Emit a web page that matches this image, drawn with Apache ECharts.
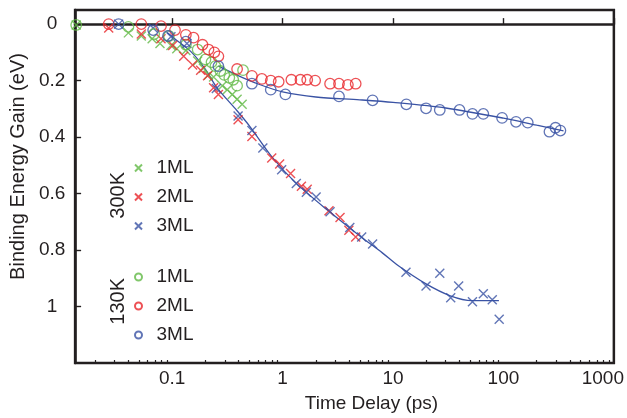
<!DOCTYPE html>
<html>
<head>
<meta charset="utf-8">
<script src="https://cdn.jsdelivr.net/npm/echarts@6/dist/echarts.min.js"></script>
<style>
html,body{margin:0;padding:0;background:#fff;}
#chart{width:627px;height:418px;}
</style>
</head>
<body>
<div id="chart"></div>
<script>
// ---- data: [time delay (ps), binding energy gain (eV)] ----
const k300_1ML = [[0.0135,0.003],[0.0401,0.031],[0.0525,0.042],[0.0658,0.052],[0.0775,0.069],[0.0974,0.076],[0.110,0.087],[0.133,0.093],[0.170,0.131],[0.192,0.156],[0.213,0.180],[0.237,0.187],[0.284,0.218],[0.315,0.232],[0.350,0.249],[0.387,0.266],[0.430,0.284]];
const k300_2ML = [[0.0266,0.014],[0.0525,0.035],[0.0792,0.052],[0.101,0.076],[0.127,0.114],[0.153,0.145],[0.181,0.163],[0.209,0.183],[0.237,0.225],[0.262,0.249],[0.395,0.339],[0.527,0.398],[0.797,0.474],[0.940,0.495],[1.18,0.529],[1.48,0.574],[1.67,0.585],[2.63,0.661],[3.31,0.685],[3.98,0.730],[4.59,0.754]];
const k300_3ML = [[0.0327,0.0],[0.0672,0.014],[0.0974,0.045],[0.136,0.069],[0.251,0.228],[0.395,0.325],[0.527,0.377],[0.662,0.439],[0.980,0.516],[1.33,0.564],[1.64,0.595],[2.01,0.612],[2.69,0.664],[4.06,0.720],[5.20,0.754],[6.53,0.779],[13.1,0.879],[19.9,0.927],[26.5,0.882],[33.3,0.969],[39.3,0.927],[52.4,0.983],[65.7,0.955],[79.2,0.976],[91.5,1.045]];
const k130_1ML = [[0.0135,0.003],[0.0401,0.010],[0.0686,0.035],[0.0934,0.042],[0.133,0.073],[0.170,0.090],[0.200,0.125],[0.227,0.135],[0.246,0.149],[0.273,0.166],[0.296,0.180],[0.329,0.190],[0.357,0.197],[0.387,0.218],[0.438,0.163]];
const k130_2ML = [[0.0266,0.0],[0.0525,0.0],[0.0792,0.007],[0.106,0.021],[0.133,0.038],[0.156,0.048],[0.188,0.073],[0.213,0.090],[0.241,0.100],[0.262,0.114],[0.387,0.159],[0.527,0.183],[0.649,0.194],[0.781,0.200],[0.921,0.204],[1.20,0.197],[1.45,0.197],[1.67,0.197],[1.97,0.200],[2.69,0.211],[3.24,0.211],[3.90,0.215],[4.59,0.211]];
const k130_3ML = [[0.0327,0.0],[0.0672,0.021],[0.0916,0.042],[0.133,0.062],[0.262,0.149],[0.527,0.211],[0.781,0.232],[1.06,0.249],[3.24,0.256],[6.53,0.270],[13.2,0.284],[19.9,0.298],[26.5,0.304],[40.0,0.304],[52.4,0.318],[65.7,0.318],[97.2,0.332],[130,0.346],[166,0.349],[261,0.381],[296,0.367],[328,0.377]];
// fitted curves
const fit300_3ML = [[0.09,0.03],[0.108,0.055],[0.15,0.10],[0.2,0.16],[0.254,0.225],[0.385,0.306],[0.506,0.363],[0.8,0.47],[1.33,0.564],[2.63,0.663],[5,0.75],[8,0.81],[11.1,0.855],[19.9,0.92],[33,0.962],[52,0.979],[91,0.979]];
const fit130_3ML = [[0.262,0.149],[0.4,0.183],[0.6,0.212],[1,0.240],[2,0.258],[5,0.268],[10,0.277],[30,0.297],[100,0.333],[200,0.358],[350,0.378]];
// ticks
const xMajorTicks = [0.1,1,10,100,1000];
const xMinorTicks = [0.02,0.03,0.04,0.05,0.06,0.07,0.08,0.09,0.2,0.3,0.4,0.5,0.6,0.7,0.8,0.9,2,3,4,5,6,7,8,9,20,30,40,50,60,70,80,90,200,300,400,500,600,700,800,900];
const yTicks = [0,0.2,0.4,0.6,0.8,1];

const GREEN = '#62b946', RED = '#e8252b', BLUE = '#3a53a4';
const INK = '#231f20';
const FONT = 'Liberation Sans, Arial, sans-serif';
const CROSS = 'path://M0,0L10,10M10,0L0,10';

function crossSeries(name, data, c){
  return {name, type:'scatter', data, symbol:CROSS, symbolSize:9,
    itemStyle:{color:'rgba(0,0,0,0)', borderColor:c, borderWidth:1.4}, z:3};
}
function circleSeries(name, data, c){
  return {name, type:'scatter', data, symbol:'circle', symbolSize:10.5,
    itemStyle:{color:'rgba(0,0,0,0)', borderColor:c, borderWidth:1.3}, z:3};
}
function fitSeries(data){
  return {type:'line', data, smooth:0.3, symbol:'none', lineStyle:{color:BLUE, width:1.3}, z:2, silent:true};
}

const chart = echarts.init(document.getElementById('chart'), null, {renderer:'canvas'});
const legendCommon = {orient:'vertical', itemWidth:26, itemHeight:7, itemGap:9, selectedMode:false,
  textStyle:{fontFamily:FONT, fontSize:19, color:INK, lineHeight:20},
  formatter: n => n.split(' ')[1]};
chart.setOption({
  animation:false,
  backgroundColor:'#fff',
  grid:{left:73, right:10, top:10, bottom:48, show:true, borderColor:INK, borderWidth:2.5, backgroundColor:'transparent'},
  xAxis:[{
    type:'log', logBase:10, min:0.0132, max:1000, position:'bottom',
    name:'Time Delay (ps)', nameLocation:'middle', nameGap:31,
    nameTextStyle:{fontFamily:FONT, fontSize:19, color:INK, padding:[0,0,0,54]},
    axisLine:{show:true, lineStyle:{color:INK, width:2.5}},
    axisTick:{show:true, inside:true, length:6, lineStyle:{color:INK, width:1.4}, customValues:xMajorTicks},
    axisLabel:{show:true, fontFamily:FONT, fontSize:19, color:INK, margin:6, customValues:xMajorTicks,
      formatter: v => v>=1000 ? '{r|'+v+'}' : String(v),
      rich:{r:{fontFamily:FONT, fontSize:19, color:INK, padding:[0,22,0,0]}}},
    splitLine:{show:false}, minorTick:{show:false}
  },{
    type:'log', logBase:10, min:0.0132, max:1000, position:'bottom',
    axisLine:{show:false},
    axisTick:{show:true, inside:true, length:3, lineStyle:{color:INK, width:1.2}, customValues:xMinorTicks},
    axisLabel:{show:false}, splitLine:{show:false}
  }],
  yAxis:{
    type:'value', inverse:true, min:-0.05, max:1.2,
    name:'Binding Energy Gain (eV)', nameLocation:'middle', nameGap:47, nameRotate:90,
    nameTextStyle:{fontFamily:FONT, fontSize:20, color:INK, padding:[0,0,0,40]},
    axisLine:{show:true, lineStyle:{color:INK, width:2.5}},
    axisTick:{show:true, inside:true, length:6, lineStyle:{color:INK, width:1.4}, customValues:yTicks},
    axisLabel:{fontFamily:FONT, fontSize:19, color:INK, align:'center', margin:23, customValues:yTicks,
      formatter: v => String(v)},
    splitLine:{show:false}
  },
  legend:[
    Object.assign({left:129, top:153, data:['300K 1ML','300K 2ML','300K 3ML']}, legendCommon),
    Object.assign({left:129, top:262, data:['130K 1ML','130K 2ML','130K 3ML']}, legendCommon)
  ],
  graphic:[
    {type:'text', left:108, top:172, rotation:Math.PI/2, style:{text:'300K', font:'20px '+FONT, fill:INK}},
    {type:'text', left:108, top:278, rotation:Math.PI/2, style:{text:'130K', font:'20px '+FONT, fill:INK}}
  ],
  series:[
    fitSeries(fit300_3ML),
    fitSeries(fit130_3ML),
    crossSeries('300K 1ML', k300_1ML, GREEN),
    crossSeries('300K 2ML', k300_2ML, RED),
    crossSeries('300K 3ML', k300_3ML, BLUE),
    circleSeries('130K 1ML', k130_1ML, GREEN),
    circleSeries('130K 2ML', k130_2ML, RED),
    circleSeries('130K 3ML', k130_3ML, BLUE)
  ]
});
</script>
</body>
</html>
